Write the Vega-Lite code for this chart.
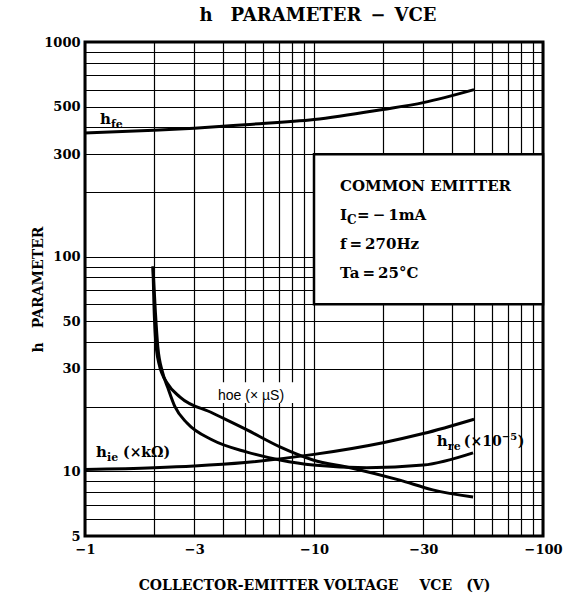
{
  "$schema": "https://vega.github.io/schema/vega-lite/v6.json",
  "width": 458,
  "height": 494,
  "autosize": {"type": "none"},
  "padding": {"left": 85, "top": 42, "right": 25, "bottom": 65},
  "background": "white",
  "title": {"text": "h\u2003PARAMETER\u2002−\u2002VCE", "font": "DejaVu Serif", "fontSize": 18, "fontWeight": "bold", "color": "black", "offset": 11, "anchor": "middle", "dx": 4},
  "config": {
    "view": {"stroke": "black", "strokeWidth": 3},
    "axis": {"gridColor": "black", "gridOpacity": 1, "gridWidth": 1.2, "ticks": false, "domain": false, "labelFont": "DejaVu Serif", "labelFontWeight": "bold", "labelFontSize": 13, "labelColor": "black", "titleFont": "DejaVu Serif", "titleFontWeight": "bold", "titleFontSize": 14, "titleColor": "black", "labelFlush": false, "labelOverlap": false}
  },
  "datasets": {
    "curves": [
      {"series": "hfe", "x": 1, "y": 377},
      {"series": "hfe", "x": 2, "y": 388},
      {"series": "hfe", "x": 3, "y": 397},
      {"series": "hfe", "x": 5, "y": 412},
      {"series": "hfe", "x": 10, "y": 435},
      {"series": "hfe", "x": 20, "y": 485},
      {"series": "hfe", "x": 30, "y": 522},
      {"series": "hfe", "x": 50, "y": 600},
      {"series": "hie", "x": 1, "y": 10.2},
      {"series": "hie", "x": 2, "y": 10.4},
      {"series": "hie", "x": 3, "y": 10.6},
      {"series": "hie", "x": 5, "y": 11.0},
      {"series": "hie", "x": 10, "y": 12.0},
      {"series": "hie", "x": 20, "y": 13.6},
      {"series": "hie", "x": 30, "y": 15.0},
      {"series": "hie", "x": 50, "y": 17.5},
      {"series": "hoe", "x": 1.98, "y": 90},
      {"series": "hoe", "x": 2.0, "y": 60},
      {"series": "hoe", "x": 2.03, "y": 42},
      {"series": "hoe", "x": 2.1, "y": 32},
      {"series": "hoe", "x": 2.3, "y": 25.5},
      {"series": "hoe", "x": 2.6, "y": 22.2},
      {"series": "hoe", "x": 3.6, "y": 18.7},
      {"series": "hoe", "x": 5.1, "y": 15.6},
      {"series": "hoe", "x": 7.1, "y": 13.0},
      {"series": "hoe", "x": 9.9, "y": 11.3},
      {"series": "hoe", "x": 14.4, "y": 10.4},
      {"series": "hoe", "x": 23.7, "y": 9.1},
      {"series": "hoe", "x": 33, "y": 8.2},
      {"series": "hoe", "x": 49.5, "y": 7.6},
      {"series": "hre", "x": 1.98, "y": 90},
      {"series": "hre", "x": 2.03, "y": 55},
      {"series": "hre", "x": 2.08, "y": 38},
      {"series": "hre", "x": 2.18, "y": 29},
      {"series": "hre", "x": 2.3, "y": 24.5},
      {"series": "hre", "x": 2.47, "y": 20.0},
      {"series": "hre", "x": 2.79, "y": 16.8},
      {"series": "hre", "x": 3.6, "y": 14.0},
      {"series": "hre", "x": 5.1, "y": 12.3},
      {"series": "hre", "x": 7.1, "y": 11.3},
      {"series": "hre", "x": 9.9, "y": 10.7},
      {"series": "hre", "x": 17, "y": 10.4},
      {"series": "hre", "x": 30, "y": 10.7},
      {"series": "hre", "x": 49.5, "y": 12.2}
    ],
    "labels": [
      {"x": 1.163, "y": 415, "sub": "fe", "rest": "", "sup": "", "close": ""},
      {"x": 1.117, "y": 11.7, "sub": "ie", "rest": "(×kΩ)", "sup": "", "close": ""},
      {"x": 34.4, "y": 13.1, "sub": "re", "rest": "(×10", "sup": "−5", "close": ")"}
    ],
    "box": [{"x": 10, "x2": 100, "y": 60, "y2": 300}],
    "boxText": [
      {"x": 13, "y": 202, "text": "COMMON EMITTER"},
      {"x": 13, "y": 108.6, "text": "f\u2009=\u2009270Hz"},
      {"x": 13, "y": 79.6, "text": "Ta\u2009=\u200925°C"}
    ],
    "icText": [{"x": 13, "y": 148, "main": "I", "sub": "C", "rest": "=\u2009−\u20091mA"}],
    "hoeBox": [{"x": 3.35, "x2": 8.4, "y": 20.8, "y2": 26}],
    "hoeText": [{"x": 5.31, "y": 22.4, "text": "hoe (× µS)"}]
  },
  "encoding": {
    "x": {"field": "x", "type": "quantitative", "scale": {"type": "log", "domain": [1, 100]},
      "axis": {"values": [1,2,3,4,5,6,7,8,9,10,20,30,40,50,60,70,80,90,100], "labelExpr": "indexof([1,3,10,30,100], datum.value) >= 0 ? '−' + datum.value : ''", "title": "COLLECTOR-EMITTER VOLTAGE\u2003\u2002VCE\u2003(V)", "labelPadding": 7, "titlePadding": 22}},
    "y": {"field": "y", "type": "quantitative", "scale": {"type": "log", "domain": [5, 1000]},
      "axis": {"values": [5,6,7,8,9,10,20,30,40,50,60,70,80,90,100,200,300,400,500,600,700,800,900,1000], "labelExpr": "indexof([5,10,30,50,100,300,500,1000], datum.value) >= 0 ? '' + datum.value : ''", "title": "h\u2003PARAMETER", "labelPadding": 5, "titlePadding": -2}}
  },
  "layer": [
    {"data": {"name": "box"}, "mark": {"type": "rect", "fill": "white", "stroke": "black", "strokeWidth": 2.5},
      "encoding": {"x2": {"field": "x2"}, "y2": {"field": "y2"}}},
    {"data": {"name": "curves"}, "mark": {"type": "line", "color": "black", "strokeWidth": 3, "interpolate": "monotone"},
      "encoding": {"detail": {"field": "series"}}},
    {"data": {"name": "hoeBox"}, "mark": {"type": "rect", "fill": "white"},
      "encoding": {"x2": {"field": "x2"}, "y2": {"field": "y2"}}},
    {"data": {"name": "hoeText"}, "mark": {"type": "text", "font": "Liberation Sans", "fontSize": 14, "color": "black", "align": "center", "baseline": "middle"},
      "encoding": {"text": {"field": "text"}}},
    {"data": {"name": "labels"}, "mark": {"type": "text", "font": "DejaVu Serif", "fontWeight": "bold", "fontSize": 15, "color": "black", "align": "left", "baseline": "alphabetic", "text": "h"}},
    {"data": {"name": "labels"}, "mark": {"type": "text", "font": "DejaVu Serif", "fontWeight": "bold", "fontSize": 11, "color": "black", "align": "left", "baseline": "alphabetic", "dx": 11, "dy": 4},
      "encoding": {"text": {"field": "sub"}}},
    {"data": {"name": "labels"}, "mark": {"type": "text", "font": "DejaVu Serif", "fontWeight": "bold", "fontSize": 14, "color": "black", "align": "left", "baseline": "alphabetic", "dx": 27},
      "encoding": {"text": {"field": "rest"}}},
    {"data": {"name": "labels"}, "mark": {"type": "text", "font": "DejaVu Serif", "fontWeight": "bold", "fontSize": 10, "color": "black", "align": "left", "baseline": "alphabetic", "dx": 65, "dy": -6},
      "encoding": {"text": {"field": "sup"}}},
    {"data": {"name": "labels"}, "mark": {"type": "text", "font": "DejaVu Serif", "fontWeight": "bold", "fontSize": 14, "color": "black", "align": "left", "baseline": "alphabetic", "dx": 81},
      "encoding": {"text": {"field": "close"}}},
    {"data": {"name": "boxText"}, "mark": {"type": "text", "font": "DejaVu Serif", "fontWeight": "bold", "fontSize": 15, "color": "black", "align": "left", "baseline": "alphabetic"},
      "encoding": {"text": {"field": "text"}}},
    {"data": {"name": "icText"}, "mark": {"type": "text", "font": "DejaVu Serif", "fontWeight": "bold", "fontSize": 15, "color": "black", "align": "left", "baseline": "alphabetic"},
      "encoding": {"text": {"field": "main"}}},
    {"data": {"name": "icText"}, "mark": {"type": "text", "font": "DejaVu Serif", "fontWeight": "bold", "fontSize": 12, "color": "black", "align": "left", "baseline": "alphabetic", "dx": 7, "dy": 4},
      "encoding": {"text": {"field": "sub"}}},
    {"data": {"name": "icText"}, "mark": {"type": "text", "font": "DejaVu Serif", "fontWeight": "bold", "fontSize": 15, "color": "black", "align": "left", "baseline": "alphabetic", "dx": 17},
      "encoding": {"text": {"field": "rest"}}}
  ]
}
